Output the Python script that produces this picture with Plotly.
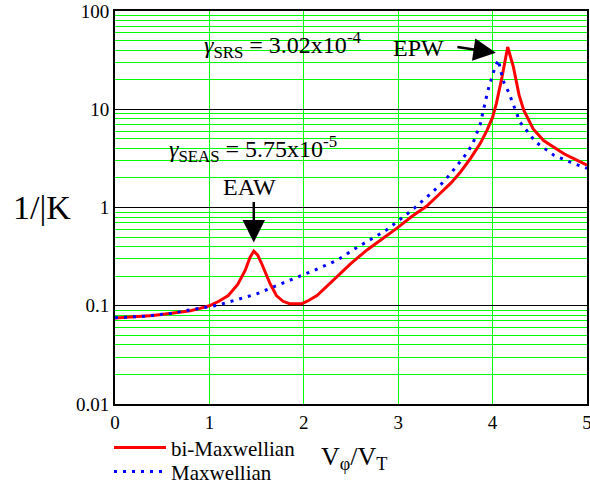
import math
import plotly.graph_objects as go

# ---- data ----
bi_x = [0.0, 0.2, 0.4, 0.6, 0.8, 0.9, 1.0, 1.1, 1.2, 1.3, 1.38, 1.43, 1.47, 1.51, 1.56, 1.64,
        1.71, 1.78, 1.85, 1.98, 2.05, 2.14, 2.25, 2.38, 2.5, 2.67, 2.81, 2.98, 3.15, 3.3,
        3.44, 3.56, 3.66, 3.77, 3.87, 3.94, 4.0, 4.04, 4.1, 4.16, 4.22, 4.28, 4.33, 4.43,
        4.54, 4.64, 4.76, 4.86, 5.0]
bi_y = [0.075, 0.077, 0.0797, 0.084, 0.089, 0.094, 0.1, 0.111, 0.127, 0.165, 0.23, 0.31, 0.36,
        0.33, 0.26, 0.17, 0.127, 0.111, 0.105, 0.105, 0.113, 0.127, 0.16, 0.21, 0.27, 0.37,
        0.46, 0.61, 0.82, 1.03, 1.38, 1.78, 2.3, 3.2, 4.5, 6.1, 8.3, 11.5, 21.3, 43, 27,
        14, 9.8, 6.3, 4.8, 4.12, 3.5, 3.15, 2.69]

m_x = [0.0, 0.3, 0.6, 0.8, 1.0, 1.1, 1.29, 1.5, 1.71, 1.92, 2.15, 2.35, 2.56, 2.87, 3.14,
       3.35, 3.46, 3.54, 3.64, 3.72, 3.79, 3.87, 3.95, 4.01, 4.06, 4.11, 4.17, 4.29, 4.46,
       4.65, 4.86, 5.0]
m_y = [0.0755, 0.078, 0.084, 0.09, 0.098, 0.102, 0.115, 0.132, 0.16, 0.193, 0.238, 0.29, 0.39,
       0.585, 0.93, 1.4, 1.75, 2.12, 2.79, 3.5, 4.46, 7.1, 15.5, 24, 32, 19.7, 14.9, 7.4, 4.6,
       3.4, 2.8, 2.5]

x_ticks = [0, 1, 2, 3, 4, 5]
y_ticks = [0.01, 0.1, 1, 10, 100]
y_tick_text = ["0.01", "0.1", "1", "10", "100"]
y_minor = [d * 10.0 ** k for k in range(-2, 2) for d in range(2, 10)]

SERIF = "Liberation Serif"

fig = go.Figure()
fig.add_trace(go.Scatter(x=bi_x, y=bi_y, mode="lines", name="bi-Maxwellian", legend="legend",
                         line=dict(color="#ff0000", width=3)))
fig.add_trace(go.Scatter(x=m_x, y=m_y, mode="lines", name="Maxwellian", legend="legend2",
                         line=dict(color="#0000ff", width=3, dash="3px,6px")))

leg_common = dict(xanchor="left", yanchor="top", itemwidth=52,
                  font=dict(family=SERIF, size=21, color="black"),
                  bgcolor="rgba(0,0,0,0)")

fig.update_layout(
    width=590, height=487,
    margin=dict(l=115, r=3, t=11, b=83, autoexpand=False),
    paper_bgcolor="white", plot_bgcolor="white",
    font=dict(family=SERIF, size=19, color="black"),
    showlegend=True,
    legend=dict(x=-0.0127, y=-0.0595, **leg_common),
    legend2=dict(x=-0.0127, y=-0.1206, **leg_common),
    xaxis=dict(range=[0, 5], tickvals=x_ticks, showgrid=True, gridcolor="#00ff00", gridwidth=1,
               showline=True, linecolor="black", linewidth=2, mirror=True, ticks="",
               zeroline=False, tickfont=dict(family=SERIF, size=19),
               ticklabeloverflow="allow",
               minor=dict(showgrid=False, ticks="")),
    yaxis=dict(type="log", range=[-2, 2], tickvals=y_ticks, ticktext=y_tick_text,
               showgrid=True, gridcolor="black", gridwidth=1,
               showline=True, linecolor="black", linewidth=2, mirror=True, ticks="",
               tickfont=dict(family=SERIF, size=19), ticklabeloverflow="allow",
               minor=dict(tickmode="array", tickvals=y_minor, showgrid=True,
                          gridcolor="#00ff00", gridwidth=1, ticks="")),
)

anns = [
    dict(x=1.77, y=1.651, xref="x", yref="y", showarrow=False, xanchor="center", yanchor="middle",
         text="<i>γ</i><sub>SRS</sub> = 3.02x10<sup>-4</sup>", font=dict(family=SERIF, size=24)),
    dict(x=1.46, y=0.60, xref="x", yref="y", showarrow=False, xanchor="center", yanchor="middle",
         text="<i>γ</i><sub>SEAS</sub> = 5.75x10<sup>-5</sup>", font=dict(family=SERIF, size=24)),
    dict(x=1.43, y=0.205, xref="x", yref="y", showarrow=False, xanchor="center", yanchor="middle",
         text="EAW", font=dict(family=SERIF, size=24)),
    dict(x=3.215, y=1.625, xref="x", yref="y", showarrow=False, xanchor="center", yanchor="middle",
         text="EPW", font=dict(family=SERIF, size=24)),
    dict(x=1.47, y=math.log10(0.44), xref="x", yref="y", showarrow=True, text="",
         ax=0, ay=-42, arrowhead=2, arrowsize=1.8, arrowwidth=2.5, arrowcolor="black"),
    dict(x=4.035, y=math.log10(37.5), xref="x", yref="y", showarrow=True, text="",
         ax=-40, ay=-6, arrowhead=2, arrowsize=1.8, arrowwidth=2.5, arrowcolor="black"),
    dict(x=(42 - 115) / 472, y=0, xref="paper", yref="y", showarrow=False,
         xanchor="center", yanchor="middle",
         text="1/|K", font=dict(family=SERIF, size=34)),
    dict(x=(354 - 115) / 472, y=(404 - 458) / 393, xref="paper", yref="paper", showarrow=False,
         xanchor="center", yanchor="middle",
         text="V<sub>φ</sub>/V<sub>T</sub>", font=dict(family=SERIF, size=26)),
]
fig.update_layout(annotations=anns)

fig.write_html("out.html")
